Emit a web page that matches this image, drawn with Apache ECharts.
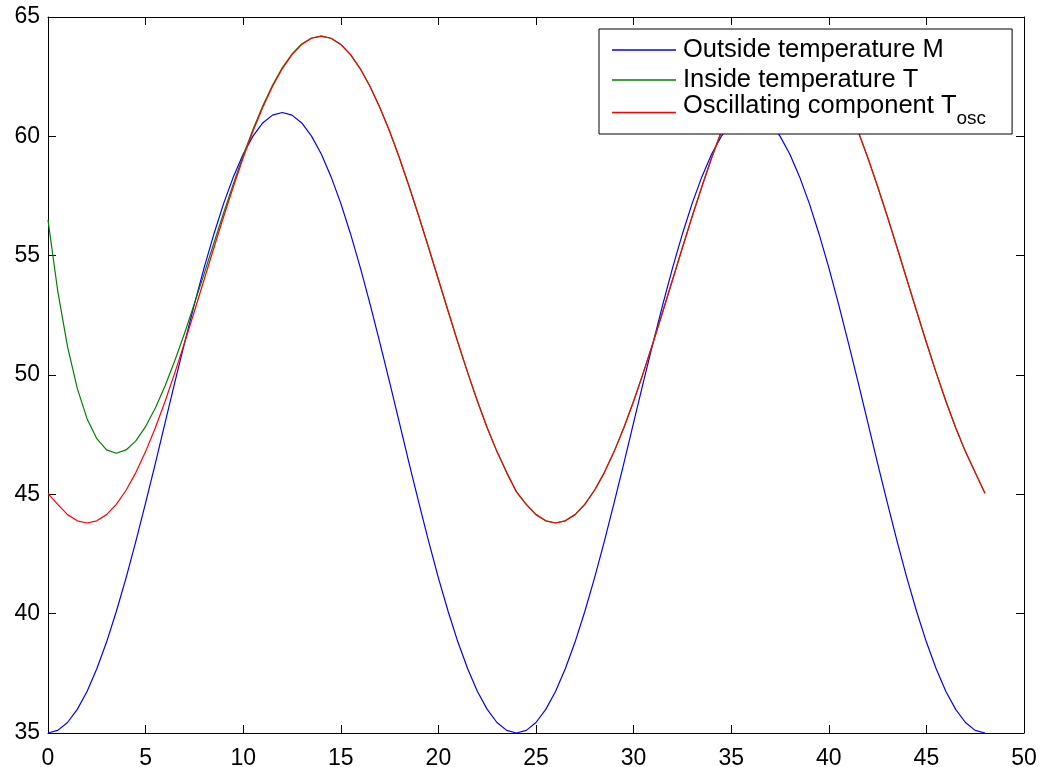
<!DOCTYPE html>
<html>
<head>
<meta charset="utf-8">
<script src="https://cdn.jsdelivr.net/npm/echarts@6/dist/echarts.min.js"></script>
<style>
html,body{margin:0;padding:0;background:#fff;}
#chart{width:1043px;height:767px;}
</style>
</head>
<body>
<div id="chart"></div>
<script>
// Sampling grid (hours)
var hours = [0,0.5,1,1.5,2,2.5,3,3.5,4,4.5,5,5.5,6,6.5,7,7.5,8,8.5,9,9.5,10,10.5,11,11.5,12,12.5,13,13.5,14,14.5,15,15.5,16,16.5,17,17.5,18,18.5,19,19.5,20,20.5,21,21.5,22,22.5,23,23.5,24,24.5,25,25.5,26,26.5,27,27.5,28,28.5,29,29.5,30,30.5,31,31.5,32,32.5,33,33.5,34,34.5,35,35.5,36,36.5,37,37.5,38,38.5,39,39.5,40,40.5,41,41.5,42,42.5,43,43.5,44,44.5,45,45.5,46,46.5,47,47.5,48];

// Outside temperature M
var outsideM = [35.00,35.11,35.44,35.99,36.74,37.69,38.81,40.09,41.50,43.03,44.64,46.30,48.00,49.70,51.36,52.97,54.50,55.91,57.19,58.31,59.26,60.01,60.56,60.89,61.00,60.89,60.56,60.01,59.26,58.31,57.19,55.91,54.50,52.97,51.36,49.70,48.00,46.30,44.64,43.03,41.50,40.09,38.81,37.69,36.74,35.99,35.44,35.11,35.00,
35.11,35.44,35.99,36.74,37.69,38.81,40.09,41.50,43.03,44.64,46.30,48.00,49.70,51.36,52.97,54.50,55.91,57.19,58.31,59.26,60.01,60.56,60.89,61.00,60.89,60.56,60.01,59.26,58.31,57.19,55.91,54.50,52.97,51.36,49.70,48.00,46.30,44.64,43.03,41.50,40.09,38.81,37.69,36.74,35.99,35.44,35.11,35.00];

// Inside temperature T
var insideT = [56.50,53.51,51.19,49.44,48.17,47.33,46.86,46.72,46.86,47.24,47.84,48.62,49.55,50.61,51.76,52.99,54.25,55.53,56.80,58.02,59.20,60.29,61.27,62.14,62.87,63.45,63.87,64.12,64.20,64.11,63.85,63.42,62.83,62.09,61.21,60.21,59.10,57.90,56.64,55.33,54.00,52.67,51.36,50.10,48.90,47.79,46.79,45.91,45.10,
44.58,44.15,43.89,43.80,43.89,44.15,44.58,45.17,45.91,46.79,47.79,48.90,50.10,51.36,52.67,54.00,55.33,56.64,57.90,59.10,60.21,61.21,62.09,62.83,63.42,63.85,64.11,64.20,64.11,63.85,63.42,62.83,62.09,61.21,60.21,59.10,57.90,56.64,55.33,54.00,52.67,51.36,50.10,48.90,47.79,46.79,45.91,45.05];

// Oscillating component T_osc
var oscT = [45.03,44.58,44.15,43.89,43.80,43.89,44.15,44.58,45.17,45.91,46.79,47.79,48.90,50.10,51.36,52.67,54.00,55.33,56.64,57.90,59.10,60.21,61.21,62.09,62.83,63.42,63.85,64.11,64.20,64.11,63.85,63.42,62.83,62.09,61.21,60.21,59.10,57.90,56.64,55.33,54.00,52.67,51.36,50.10,48.90,47.79,46.79,45.91,45.10,
44.58,44.15,43.89,43.80,43.89,44.15,44.58,45.17,45.91,46.79,47.79,48.90,50.10,51.36,52.67,54.00,55.33,56.64,57.90,59.10,60.21,61.21,62.09,62.83,63.42,63.85,64.11,64.20,64.11,63.85,63.42,62.83,62.09,61.21,60.21,59.10,57.90,56.64,55.33,54.00,52.67,51.36,50.10,48.90,47.79,46.79,45.91,45.05];

var seriesNames = ['Outside temperature M', 'Inside temperature T', 'Oscillating component T_osc'];
var seriesColors = ['#0000ff', '#008000', '#ff0000'];
var seriesData = [outsideM, insideT, oscT];

function pairs(ys){ return hours.map(function(h,i){ return [h, ys[i]]; }); }

var FONT = '"Liberation Sans", Arial, Helvetica, sans-serif';
var chart = echarts.init(document.getElementById('chart'), null, {renderer:'canvas'});

var axisCommon = {
  axisLine: {show:true, onZero:false, lineStyle:{color:'#000', width:1}},
  axisTick: {show:true, inside:true, length:8, lineStyle:{color:'#000', width:1}},
  splitLine: {show:false}
};

var option = {
  animation: false,
  backgroundColor: '#fff',
  grid: {left:48, right:19, top:17, bottom:34, containLabel:false, outerBoundsMode:'none'},
  xAxis: [
    Object.assign({type:'value', min:0, max:50, interval:5, position:'bottom',
      axisLabel:{color:'#000', fontSize:23, fontFamily:FONT, margin:14}}, axisCommon),
    Object.assign({type:'value', min:0, max:50, interval:5, position:'top',
      axisLabel:{show:false}}, axisCommon)
  ],
  yAxis: [
    Object.assign({type:'value', min:35, max:65, interval:5, position:'left',
      axisLabel:{color:'#000', fontSize:23, fontFamily:FONT, margin:8}}, axisCommon),
    Object.assign({type:'value', min:35, max:65, interval:5, position:'right',
      axisLabel:{show:false}}, axisCommon)
  ],
  legend: {
    show: true,
    z: 20,
    orient: 'vertical',
    left: 599,
    top: 29,
    backgroundColor: '#fff',
    borderColor: '#000',
    borderWidth: 1,
    borderRadius: 0,
    padding: [3.5, 26, 5.5, 13],
    itemGap: -5,
    itemWidth: 64,
    itemHeight: 1.5,
    icon: 'rect',
    data: seriesNames.map(function(n, i){
      return {name: n, itemStyle: {color: seriesColors[i], borderWidth: 0}};
    }),
    formatter: function(name){
      if (name.indexOf('T_osc') >= 0) return '{c|Oscillating component T}{s|osc}';
      return '{a|' + name + '}';
    },
    textStyle: {
      color:'#000', fontFamily:FONT, fontSize:25.5, lineHeight:35,
      rich: {
        a: {fontSize:25.5, fontFamily:FONT, color:'#000', lineHeight:35, padding:[0,0,0,2]},
        c: {fontSize:25.5, fontFamily:FONT, color:'#000', lineHeight:20, verticalAlign:'top', padding:[-9,0,0,2]},
        s: {fontSize:19, fontFamily:FONT, color:'#000', lineHeight:22, verticalAlign:'top', padding:[8,0,0,0]}
      }
    }
  },
  series: seriesNames.map(function(n, i){
    return {
      name: n, type:'line', data: pairs(seriesData[i]),
      showSymbol:false, symbol:'none', smooth:false,
      lineStyle:{color:seriesColors[i], width:1.2},
      itemStyle:{color:seriesColors[i]},
      emphasis:{disabled:true}, z: 2
    };
  })
};
chart.setOption(option);
</script>
</body>
</html>
